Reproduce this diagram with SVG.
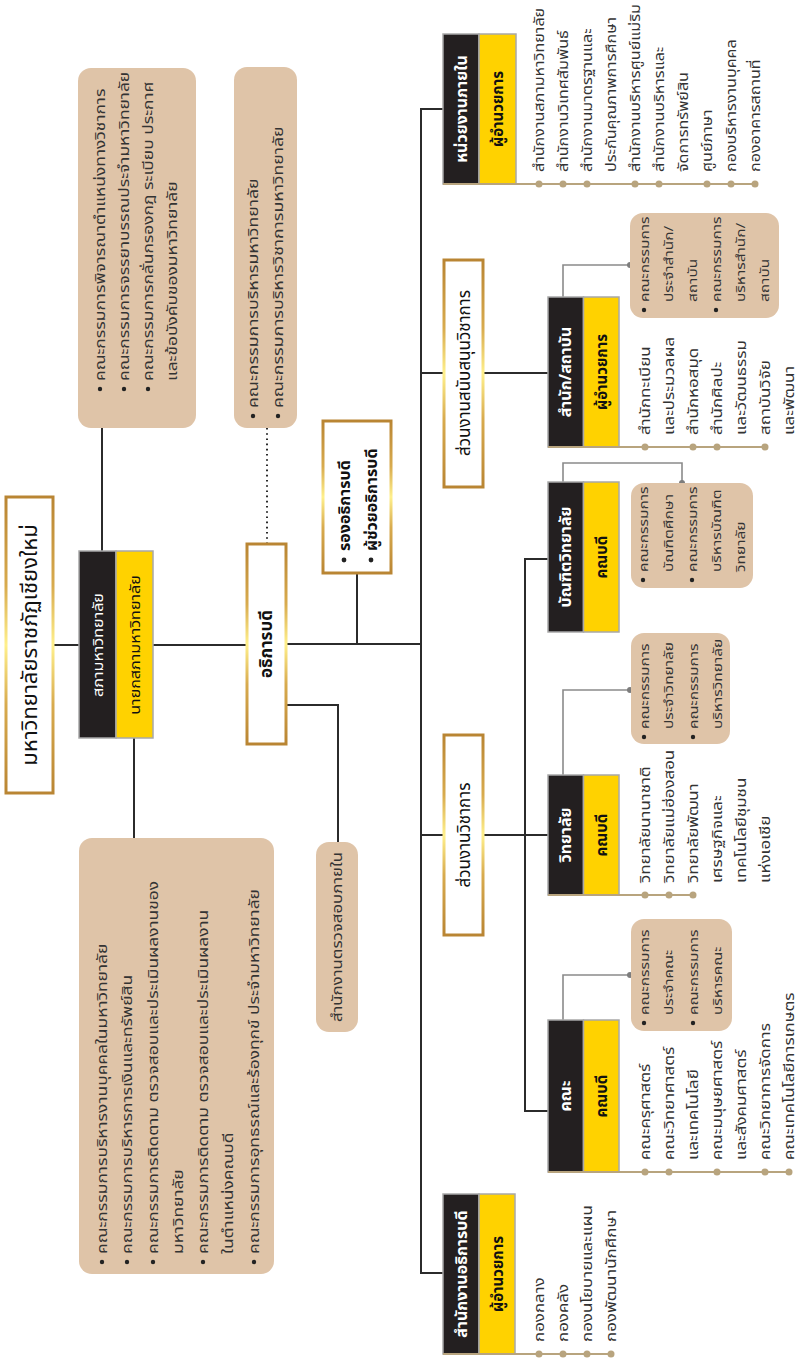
<svg xmlns="http://www.w3.org/2000/svg" width="802" height="1359" viewBox="0 0 802 1359">
<defs>
<linearGradient id="gold" x1="0" y1="0" x2="1" y2="0">
<stop offset="0" stop-color="#b98533"/>
<stop offset="0.3" stop-color="#d8ab4e"/>
<stop offset="0.5" stop-color="#fff08c"/>
<stop offset="0.7" stop-color="#d8ab4e"/>
<stop offset="1" stop-color="#b98533"/>
</linearGradient>
<style>
.conn{stroke:#2b2b2b;stroke-width:2;fill:none}
.gconn{stroke:#8a8a8a;stroke-width:1.6;fill:none}
.tan{stroke:#b8a47e;stroke-width:2}
.dot{fill:#b8a47e}
.gdot{fill:#7d7d7d}
.bul{fill:#222}
.beige{fill:#dfc4a8}
.gold{fill:#fff;stroke:url(#gold);stroke-width:3}
.blk{fill:#231f20;stroke:#a8a8a8;stroke-width:1.5}
.yel{fill:#ffd200;stroke:#a8a8a8;stroke-width:1.5}
text{font-family:'Noto Sans Thai','Noto Sans Thai Looped','Noto Sans','DejaVu Sans',sans-serif;fill:#333}
.t{font-size:14px}
.tb{font-size:14.5px}
.tc{font-size:13px}
.hw{font-size:16px;font-weight:bold;fill:#fff}
.hy{font-size:15px;font-weight:bold;fill:#111}
.cw{font-size:14px;fill:#fff}
.cy{font-size:14px;fill:#111}
.sec{font-size:17px;fill:#111}
.bold{font-size:16px;font-weight:bold;fill:#111}
.title{font-size:22px;fill:#111}
</style>
</defs>
<g transform="translate(0,1359) rotate(-90)">
<g id="connectors">
<line class="conn" x1="714" y1="53" x2="714" y2="79"/>
<line class="conn" x1="808" y1="102" x2="931" y2="102"/>
<line class="conn" x1="521" y1="134" x2="621" y2="134"/>
<line class="conn" x1="714" y1="153" x2="714" y2="247"/>
<line x1="815" y1="267" x2="931" y2="267" stroke="#2b2b2b" stroke-width="2" stroke-dasharray="1.6 3.6"/>
<line class="conn" x1="715" y1="357" x2="786" y2="357"/>
<line class="conn" x1="715" y1="286" x2="715" y2="421"/>
<polyline class="conn" points="654,286 654,338 517,338"/>
<line class="conn" x1="86" y1="421" x2="1250" y2="421"/>
<line class="conn" x1="1250" y1="420" x2="1250" y2="443"/>
<line class="conn" x1="86" y1="420" x2="86" y2="443"/>
<line class="conn" x1="986" y1="421" x2="986" y2="548"/>
<line class="conn" x1="524" y1="421" x2="524" y2="548"/>
<line class="conn" x1="248" y1="525" x2="800" y2="525"/>
<line class="conn" x1="800" y1="524" x2="800" y2="548"/>
<line class="conn" x1="248" y1="524" x2="248" y2="548"/>
<polyline class="gconn" points="1062,563 1094,563 1094,630"/>
<circle class="gdot" cx="1094" cy="630" r="3"/>
<polyline class="gconn" points="877,563 896,563 896,682 876,682"/>
<circle class="gdot" cx="876" cy="682" r="3"/>
<polyline class="gconn" points="584,563 669,563 669,630"/>
<circle class="gdot" cx="669" cy="630" r="3"/>
<polyline class="gconn" points="339,563 384,563 384,630"/>
<circle class="gdot" cx="384" cy="630" r="3"/>
</g>
<g id="title">
<rect class="gold" x="566" y="6" width="296" height="47"/>
<text class="title" x="714" y="37" text-anchor="middle">มหาวิทยาลัยราชภัฏเชียงใหม่</text>
</g>
<g id="council">
<rect class="blk" x="621" y="79" width="187" height="37"/>
<rect class="yel" x="621" y="116" width="187" height="37"/>
<g transform="matrix(1.15,0,0,1,-107.1,0)">
<text class="cw" x="714" y="103" text-anchor="middle">สภามหาวิทยาลัย</text>
<text class="cy" x="714" y="140" text-anchor="middle">นายกสภามหาวิทยาลัย</text>
</g>
</g>
<g id="council-committees-a">
<rect class="beige" x="931" y="78" width="360" height="118" rx="13"/>
<circle class="bul" cx="970" cy="100" r="2.2"/>
<circle class="bul" cx="970" cy="124" r="2.2"/>
<circle class="bul" cx="970" cy="148" r="2.2"/>
<g transform="matrix(1.2,0,0,1,-195.6,0)">
<text class="tb" x="978" y="105">คณะกรรมการพิจารณาตำแหน่งทางวิชาการ</text>
<text class="tb" x="978" y="129">คณะกรรมการจรรยาบรรณประจำมหาวิทยาลัย</text>
<text class="tb" x="978" y="153">คณะกรรมการกลั่นกรองกฎ ระเบียบ ประกาศ</text>
<text class="tb" x="978" y="177">และข้อบังคับของมหาวิทยาลัย</text>
</g>
</g>
<g id="council-committees-b">
<rect class="beige" x="85" y="79" width="436" height="195" rx="13"/>
<circle class="bul" cx="97" cy="102" r="2.2"/>
<circle class="bul" cx="97" cy="127" r="2.2"/>
<circle class="bul" cx="97" cy="153" r="2.2"/>
<circle class="bul" cx="97" cy="203" r="2.2"/>
<circle class="bul" cx="97" cy="254" r="2.2"/>
<g transform="matrix(1.2,0,0,1,-21,0)">
<text class="tb" x="105" y="107">คณะกรรมการบริหารงานบุคคลในมหาวิทยาลัย</text>
<text class="tb" x="105" y="132">คณะกรรมการบริหารการเงินและทรัพย์สิน</text>
<text class="tb" x="105" y="158">คณะกรรมการติดตาม ตรวจสอบและประเมินผลงานของ</text>
<text class="tb" x="105" y="183">มหาวิทยาลัย</text>
<text class="tb" x="105" y="208">คณะกรรมการติดตาม ตรวจสอบและประเมินผลงาน</text>
<text class="tb" x="105" y="233">ในตำแหน่งคณบดี</text>
<text class="tb" x="105" y="259">คณะกรรมการอุทธรณ์และร้องทุกข์ ประจำมหาวิทยาลัย</text>
</g>
</g>
<g id="president">
<rect class="gold" x="615" y="247" width="200" height="39"/>
<text class="bold" x="715" y="272" text-anchor="middle" style="font-size:17px">อธิการบดี</text>
</g>
<g id="exec-committees">
<rect class="beige" x="931" y="234" width="361" height="63" rx="13"/>
<circle class="bul" cx="943" cy="253" r="2.2"/>
<circle class="bul" cx="943" cy="278" r="2.2"/>
<g transform="matrix(1.22,0,0,1,-209.22,0)">
<text class="tb" x="951" y="258">คณะกรรมการบริหารมหาวิทยาลัย</text>
<text class="tb" x="951" y="283">คณะกรรมการบริหารวิชาการมหาวิทยาลัย</text>
</g>
</g>
<g id="vice">
<rect class="gold" x="786" y="323" width="152" height="68"/>
<circle class="bul" cx="799" cy="344" r="2.4"/>
<circle class="bul" cx="799" cy="371" r="2.4"/>
<text class="bold" x="808" y="350">รองอธิการบดี</text>
<text class="bold" x="808" y="377">ผู้ช่วยอธิการบดี</text>
</g>
<g id="audit">
<rect class="beige" x="327" y="316" width="190" height="42" rx="13"/>
<g transform="matrix(1.12,0,0,1,-50.64,0)">
<text class="t" x="422" y="342" text-anchor="middle" style="font-size:15px">สำนักงานตรวจสอบภายใน</text>
</g>
</g>
<g id="sec-support">
<rect class="gold" x="872" y="444" width="227" height="39"/>
<text class="sec" x="986" y="470" text-anchor="middle">ส่วนงานสนับสนุนวิชาการ</text>
</g>
<g id="sec-academic">
<rect class="gold" x="424" y="444" width="200" height="39"/>
<text class="sec" x="524" y="470" text-anchor="middle">ส่วนงานวิชาการ</text>
</g>
<g id="internal-units">
<rect class="blk" x="1175" y="443" width="150" height="36"/>
<rect class="yel" x="1175" y="479" width="150" height="37"/>
<text class="hw" x="1250" y="467" text-anchor="middle">หน่วยงานภายใน</text>
<text class="hy" x="1250" y="503" text-anchor="middle">ผู้อำนวยการ</text>
<line class="tan" x1="1175" y1="443" x2="1175" y2="757"/>
<circle class="dot" cx="1175" cy="539" r="3.5"/><circle class="dot" cx="1175" cy="563" r="3.5"/><circle class="dot" cx="1175" cy="587" r="3.5"/><circle class="dot" cx="1175" cy="635" r="3.5"/><circle class="dot" cx="1175" cy="659" r="3.5"/><circle class="dot" cx="1175" cy="707" r="3.5"/><circle class="dot" cx="1175" cy="731" r="3.5"/><circle class="dot" cx="1175" cy="755" r="3.5"/>
<g transform="matrix(1.15,0,0,1,-178.05,0)">
<text class="t" x="1187" y="544">สำนักงานสภามหาวิทยาลัย</text>
<text class="t" x="1187" y="568">สำนักงานวิเทศสัมพันธ์</text>
<text class="t" x="1187" y="592">สำนักงานมาตรฐานและ</text>
<text class="t" x="1187" y="616">ประกันคุณภาพการศึกษา</text>
<text class="t" x="1187" y="640">สำนักงานบริหารศูนย์แม่ริม</text>
<text class="t" x="1187" y="664">สำนักงานบริหารและ</text>
<text class="t" x="1187" y="688">จัดการทรัพย์สิน</text>
<text class="t" x="1187" y="712">ศูนย์ภาษา</text>
<text class="t" x="1187" y="736">กองบริหารงานบุคคล</text>
<text class="t" x="1187" y="760">กองอาคารสถานที่</text>
</g>
</g>
<g id="offices">
<rect class="blk" x="912" y="548" width="150" height="35.5"/>
<rect class="yel" x="912" y="583.5" width="150" height="35.5"/>
<text class="hw" x="987" y="571" text-anchor="middle">สำนัก/สถาบัน</text>
<text class="hy" x="987" y="607" text-anchor="middle">ผู้อำนวยการ</text>
<line class="tan" x1="912" y1="548" x2="912" y2="765"/>
<circle class="dot" cx="912" cy="645" r="3.5"/><circle class="dot" cx="912" cy="693" r="3.5"/><circle class="dot" cx="912" cy="717" r="3.5"/><circle class="dot" cx="912" cy="765" r="3.5"/>
<g transform="matrix(1.21,0,0,1,-193.98,0)">
<text class="t" x="924" y="650">สำนักทะเบียน</text>
<text class="t" x="924" y="674">และประมวลผล</text>
<text class="t" x="924" y="698">สำนักหอสมุด</text>
<text class="t" x="924" y="722">สำนักศิลปะ</text>
<text class="t" x="924" y="746">และวัฒนธรรม</text>
<text class="t" x="924" y="770">สถาบันวิจัย</text>
<text class="t" x="924" y="794">และพัฒนา</text>
</g>
</g>
<g id="offices-committees">
<rect class="beige" x="1041" y="630" width="105" height="149" rx="13"/>
<circle class="bul" cx="1049" cy="644" r="2.2"/><circle class="bul" cx="1049" cy="716" r="2.2"/>
<g transform="matrix(1.19,0,0,1,-200.83,0)">
<text class="tc" x="1057" y="649">คณะกรรมการ</text>
<text class="tc" x="1057" y="673">ประจำสำนัก/</text>
<text class="tc" x="1057" y="697">สถาบัน</text>
<text class="tc" x="1057" y="721">คณะกรรมการ</text>
<text class="tc" x="1057" y="745">บริหารสำนัก/</text>
<text class="tc" x="1057" y="769">สถาบัน</text>
</g>
</g>
<g id="graduate-school">
<rect class="blk" x="727" y="548" width="150" height="35.5"/>
<rect class="yel" x="727" y="583.5" width="150" height="35.5"/>
<text class="hw" x="802" y="571" text-anchor="middle">บัณฑิตวิทยาลัย</text>
<text class="hy" x="802" y="607" text-anchor="middle">คณบดี</text>
</g>
<g id="graduate-committees">
<rect class="beige" x="771" y="631" width="105" height="122" rx="13"/>
<circle class="bul" cx="779" cy="643" r="2.2"/><circle class="bul" cx="779" cy="692" r="2.2"/>
<g transform="matrix(1.19,0,0,1,-149.53,0)">
<text class="tc" x="787" y="648">คณะกรรมการ</text>
<text class="tc" x="787" y="673">บัณฑิตศึกษา</text>
<text class="tc" x="787" y="697">คณะกรรมการ</text>
<text class="tc" x="787" y="721">บริหารบัณฑิต</text>
<text class="tc" x="787" y="745">วิทยาลัย</text>
</g>
</g>
<g id="colleges">
<rect class="blk" x="464" y="548" width="120" height="35.5"/>
<rect class="yel" x="464" y="583.5" width="120" height="35.5"/>
<text class="hw" x="524" y="571" text-anchor="middle">วิทยาลัย</text>
<text class="hy" x="524" y="607" text-anchor="middle">คณบดี</text>
<line class="tan" x1="464" y1="548" x2="464" y2="693"/>
<circle class="dot" cx="464" cy="645" r="3.5"/><circle class="dot" cx="464" cy="669" r="3.5"/><circle class="dot" cx="464" cy="693" r="3.5"/>
<g transform="matrix(1.21,0,0,1,-99.96,0)">
<text class="t" x="476" y="650">วิทยาลัยนานาชาติ</text>
<text class="t" x="476" y="674">วิทยาลัยแม่ฮ่องสอน</text>
<text class="t" x="476" y="698">วิทยาลัยพัฒนา</text>
<text class="t" x="476" y="722">เศรษฐกิจและ</text>
<text class="t" x="476" y="746">เทคโนโลยีชุมชน</text>
<text class="t" x="476" y="770">แห่งเอเชีย</text>
</g>
</g>
<g id="colleges-committees">
<rect class="beige" x="615" y="631" width="111" height="99" rx="13"/>
<circle class="bul" cx="622" cy="644" r="2.2"/><circle class="bul" cx="622" cy="693" r="2.2"/>
<g transform="matrix(1.19,0,0,1,-119.7,0)">
<text class="tc" x="630" y="649">คณะกรรมการ</text>
<text class="tc" x="630" y="673">ประจำวิทยาลัย</text>
<text class="tc" x="630" y="698">คณะกรรมการ</text>
<text class="tc" x="630" y="722">บริหารวิทยาลัย</text>
</g>
</g>
<g id="faculties">
<rect class="blk" x="187" y="548" width="152" height="35.5"/>
<rect class="yel" x="187" y="583.5" width="152" height="35.5"/>
<text class="hw" x="263" y="571" text-anchor="middle">คณะ</text>
<text class="hy" x="263" y="607" text-anchor="middle">คณบดี</text>
<line class="tan" x1="187" y1="548" x2="187" y2="789"/>
<circle class="dot" cx="187" cy="645" r="3.5"/><circle class="dot" cx="187" cy="669" r="3.5"/><circle class="dot" cx="187" cy="717" r="3.5"/><circle class="dot" cx="187" cy="765" r="3.5"/><circle class="dot" cx="187" cy="789" r="3.5"/>
<g transform="matrix(1.21,0,0,1,-41.79,0)">
<text class="t" x="199" y="650">คณะครุศาสตร์</text>
<text class="t" x="199" y="674">คณะวิทยาศาสตร์</text>
<text class="t" x="199" y="698">และเทคโนโลยี</text>
<text class="t" x="199" y="722">คณะมนุษยศาสตร์</text>
<text class="t" x="199" y="746">และสังคมศาสตร์</text>
<text class="t" x="199" y="770">คณะวิทยาการจัดการ</text>
<text class="t" x="199" y="794">คณะเทคโนโลยีการเกษตร</text>
</g>
</g>
<g id="faculties-committees">
<rect class="beige" x="328" y="631" width="112" height="101" rx="13"/>
<circle class="bul" cx="336" cy="644" r="2.2"/><circle class="bul" cx="336" cy="693" r="2.2"/>
<g transform="matrix(1.19,0,0,1,-65.36,0)">
<text class="tc" x="344" y="649">คณะกรรมการ</text>
<text class="tc" x="344" y="673">ประจำคณะ</text>
<text class="tc" x="344" y="698">คณะกรรมการ</text>
<text class="tc" x="344" y="722">บริหารคณะ</text>
</g>
</g>
<g id="president-office">
<rect class="blk" x="5" y="443" width="160" height="36"/>
<rect class="yel" x="5" y="479" width="160" height="36"/>
<text class="hw" x="85" y="467" text-anchor="middle">สำนักงานอธิการบดี</text>
<text class="hy" x="85" y="503" text-anchor="middle">ผู้อำนวยการ</text>
<line class="tan" x1="5" y1="443" x2="5" y2="612"/>
<circle class="dot" cx="5" cy="539" r="3.5"/><circle class="dot" cx="5" cy="563" r="3.5"/><circle class="dot" cx="5" cy="587" r="3.5"/><circle class="dot" cx="5" cy="611" r="3.5"/>
<g transform="matrix(1.21,0,0,1,-3.57,0)">
<text class="t" x="17" y="544">กองกลาง</text>
<text class="t" x="17" y="568">กองคลัง</text>
<text class="t" x="17" y="592">กองนโยบายและแผน</text>
<text class="t" x="17" y="616">กองพัฒนานักศึกษา</text>
</g>
</g>
</g>
</svg>
